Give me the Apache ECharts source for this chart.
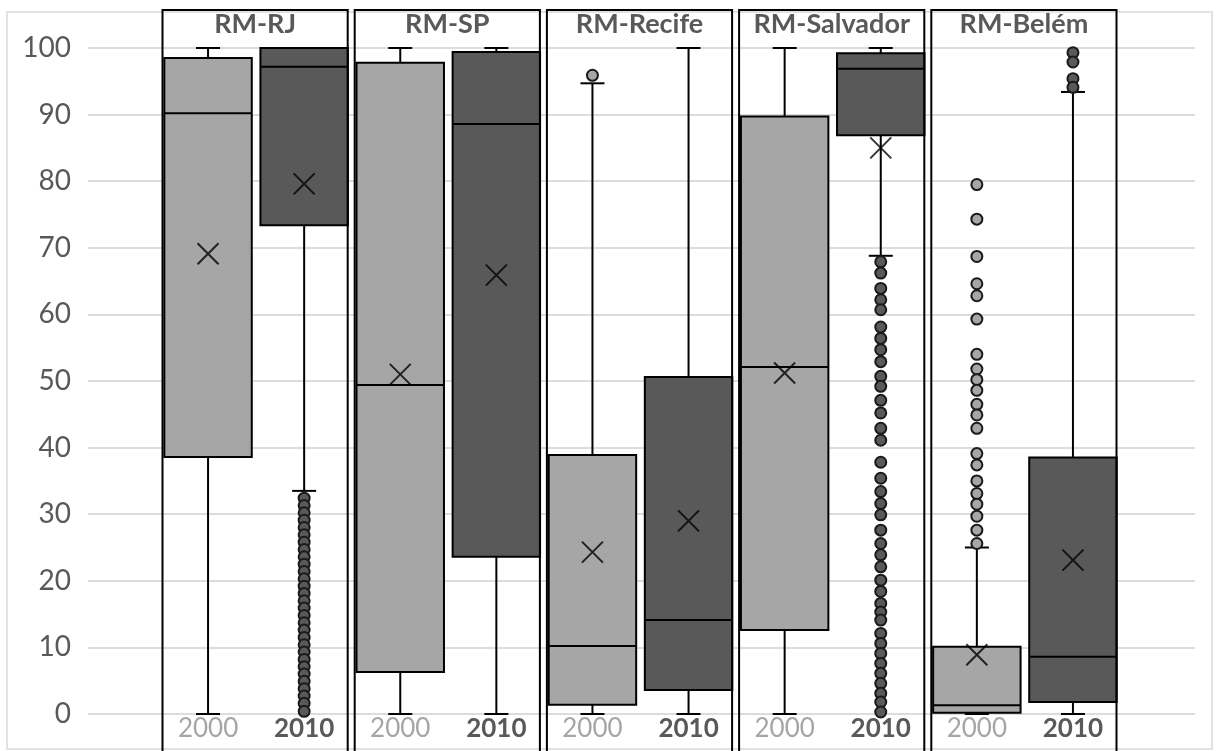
<!DOCTYPE html>
<html>
<head>
<meta charset="utf-8">
<script src="https://cdn.jsdelivr.net/npm/echarts@6/dist/echarts.min.js"></script>
<style>
  html, body { margin: 0; padding: 0; background: #ffffff; }
  #chart { width: 1218px; height: 751px; }
</style>
</head>
<body>
<div id="chart"></div>
<script>
// Metropolitan regions and census years
const regions = ['RM-RJ', 'RM-SP', 'RM-Recife', 'RM-Salvador', 'RM-Belém'];
const years = ['2000', '2010'];

// Box statistics per region: [min, Q1, median, Q3, max]
const box2000 = [
  [0, 38.6, 90.2, 98.5, 100],
  [0, 6.3, 49.4, 97.8, 100],
  [0, 1.4, 10.2, 38.9, 94.7],
  [0, 12.6, 52.1, 89.7, 100],
  [0, 0.2, 1.3, 10.1, 25.0]
];
const box2010 = [
  [33.5, 73.4, 97.2, 100, 100],
  [0, 23.6, 88.6, 99.4, 100],
  [0, 3.6, 14.1, 50.6, 100],
  [68.8, 86.9, 96.9, 99.2, 100],
  [0, 1.8, 8.6, 38.5, 93.4]
];

// Means per region
const mean2000 = [69.1, 51.0, 24.3, 51.2, 8.9];
const mean2010 = [79.6, 65.9, 29.0, 85.0, 23.1];

// Outliers per region
const outliers2000 = [
  [],
  [],
  [95.9],
  [],
  [79.5, 74.3, 68.7, 64.6, 62.8, 59.3, 54.0, 51.8, 50.2, 48.6, 46.5, 44.9, 42.9,
   39.1, 37.4, 35.0, 33.1, 31.5, 29.7, 27.6, 25.6]
];
const outliers2010 = [
  [32.4, 31.3, 30.2, 29.1, 28.0, 26.9, 25.8, 24.7, 23.6, 22.5, 21.4, 20.3, 19.2, 18.1,
   17.0, 15.9, 14.8, 13.7, 12.6, 11.5, 10.4, 9.3, 8.2, 7.1, 6.0, 4.9, 3.8, 2.7, 1.6, 0.4],
  [],
  [],
  [67.9, 66.2, 63.9, 62.2, 60.7, 58.1, 56.4, 54.7, 52.9, 50.7, 49.2, 47.1, 45.2, 42.9,
   41.1, 37.8, 35.4, 33.4, 31.6, 29.9, 27.6, 25.6, 23.9, 22.1, 20.1, 18.4, 16.6, 15.3,
   14.1, 12.1, 10.6, 9.1, 7.6, 6.1, 4.6, 3.1, 1.8, 0.3],
  [99.3, 97.9, 95.4, 94.1]
];

const FILL = ['#a6a6a6', '#595959'];
const LABEL_COLOR = ['#a6a6a6', '#595959'];
const FONT = 'Lato, "Open Sans", sans-serif';

// One category per region/year pair
const categories = [];
const boxRows = [];
const meanRows = [];
const outlierRows = [];
regions.forEach((r, ri) => {
  [box2000, box2010].forEach((set, yi) => {
    const idx = categories.length;
    categories.push(r + ' ' + years[yi]);
    const s = set[ri];
    boxRows.push([idx, s[0], s[1], s[2], s[3], s[4], yi]);
    meanRows.push([idx, (yi ? mean2010 : mean2000)[ri]]);
    (yi ? outliers2010 : outliers2000)[ri].forEach(v => outlierRows.push([idx, v, yi]));
  });
});
const frameRows = regions.map((r, ri) => [ri * 2, 0, ri]);

function renderBox(params, api) {
  const x = api.value(0);
  const band = api.size([1, 0])[0];
  const w = band * 0.91;
  const cap = 24;
  const cx = api.coord([x, 0])[0];
  const yMin = api.coord([x, api.value(1)])[1];
  const yQ1 = api.coord([x, api.value(2)])[1];
  const yMed = api.coord([x, api.value(3)])[1];
  const yQ3 = api.coord([x, api.value(4)])[1];
  const yMax = api.coord([x, api.value(5)])[1];
  const fill = FILL[api.value(6)];
  const line = { stroke: '#000', lineWidth: 2 };
  return {
    type: 'group',
    children: [
      { type: 'line', shape: { x1: cx, y1: yQ3, x2: cx, y2: yMax }, style: line },
      { type: 'line', shape: { x1: cx - cap / 2, y1: yMax, x2: cx + cap / 2, y2: yMax }, style: line },
      { type: 'line', shape: { x1: cx, y1: yQ1, x2: cx, y2: yMin }, style: line },
      { type: 'line', shape: { x1: cx - cap / 2, y1: yMin, x2: cx + cap / 2, y2: yMin }, style: line },
      { type: 'rect', shape: { x: cx - w / 2, y: yQ3, width: w, height: yQ1 - yQ3 },
        style: { fill: fill, stroke: '#000', lineWidth: 2 } },
      { type: 'line', shape: { x1: cx - w / 2, y1: yMed, x2: cx + w / 2, y2: yMed }, style: line }
    ]
  };
}

function renderFrame(params, api) {
  const x = api.value(0);
  const band = api.size([1, 0])[0];
  const left = api.coord([x, 0])[0] - band / 2 + 2.5;
  const right = api.coord([x + 1, 0])[0] + band / 2 - 4.5;
  const top = 10;
  return {
    type: 'group',
    children: [
      { type: 'rect', shape: { x: left, y: top, width: right - left, height: 760 - top },
        style: { fill: 'none', stroke: '#000', lineWidth: 2 } },
      { type: 'text', x: (left + right) / 2, y: 11,
        style: { text: regions[api.value(2)], fill: '#595959', font: 'bold 27px ' + FONT,
                 textAlign: 'center', textVerticalAlign: 'top' } }
    ]
  };
}

const chart = echarts.init(document.getElementById('chart'), null, { renderer: 'canvas' });
chart.setOption({
  backgroundColor: '#ffffff',
  animation: false,
  graphic: [{
    type: 'rect', z: -10, silent: true,
    shape: { x: 7, y: 12, width: 1205, height: 737 },
    style: { fill: 'none', stroke: '#d9d9d9', lineWidth: 1.5 }
  }],
  grid: [
    { left: 88, right: 23, top: 48, bottom: 37 },
    { left: 160, right: 97, top: 48, bottom: 37 }
  ],
  xAxis: [
    { gridIndex: 0, type: 'value', min: 0, max: 1, show: false },
    {
      gridIndex: 1, type: 'category', data: categories,
      axisLine: { show: false }, axisTick: { show: false }, splitLine: { show: false },
      axisLabel: {
        margin: 2, interval: 0,
        formatter: v => v.endsWith('2000') ? '{a|2000}' : '{b|2010}',
        rich: {
          a: { color: LABEL_COLOR[0], fontSize: 26, fontFamily: FONT },
          b: { color: LABEL_COLOR[1], fontSize: 26, fontFamily: FONT, fontWeight: 'bold' }
        }
      }
    }
  ],
  yAxis: [
    {
      gridIndex: 0, type: 'value', min: 0, max: 100, interval: 10,
      axisLine: { show: false }, axisTick: { show: false },
      axisLabel: { color: '#595959', fontSize: 28, fontFamily: FONT, margin: 17 },
      splitLine: { lineStyle: { color: '#dcdcdc', width: 2 } }
    },
    { gridIndex: 1, type: 'value', min: 0, max: 100, interval: 10, show: false }
  ],
  series: [
    {
      name: 'box', type: 'custom', xAxisIndex: 1, yAxisIndex: 1, z: 2,
      renderItem: renderBox, data: boxRows, clip: false
    },
    {
      name: 'outliers', type: 'scatter', xAxisIndex: 1, yAxisIndex: 1, z: 3,
      symbol: 'circle', symbolSize: 11,
      itemStyle: {
        color: p => FILL[p.value[2]],
        borderColor: '#1a1a1a', borderWidth: 2, opacity: 1
      },
      data: outlierRows
    },
    {
      name: 'mean', type: 'scatter', xAxisIndex: 1, yAxisIndex: 1, z: 4,
      symbol: 'path://M0,0L20,20M20,0L0,20', symbolSize: 21,
      itemStyle: { color: 'none', borderColor: '#000', borderWidth: 2 },
      data: meanRows
    },
    {
      name: 'frames', type: 'custom', xAxisIndex: 1, yAxisIndex: 1, z: 5,
      renderItem: renderFrame, data: frameRows, clip: false, silent: true
    }
  ]
});
</script>
</body>
</html>
